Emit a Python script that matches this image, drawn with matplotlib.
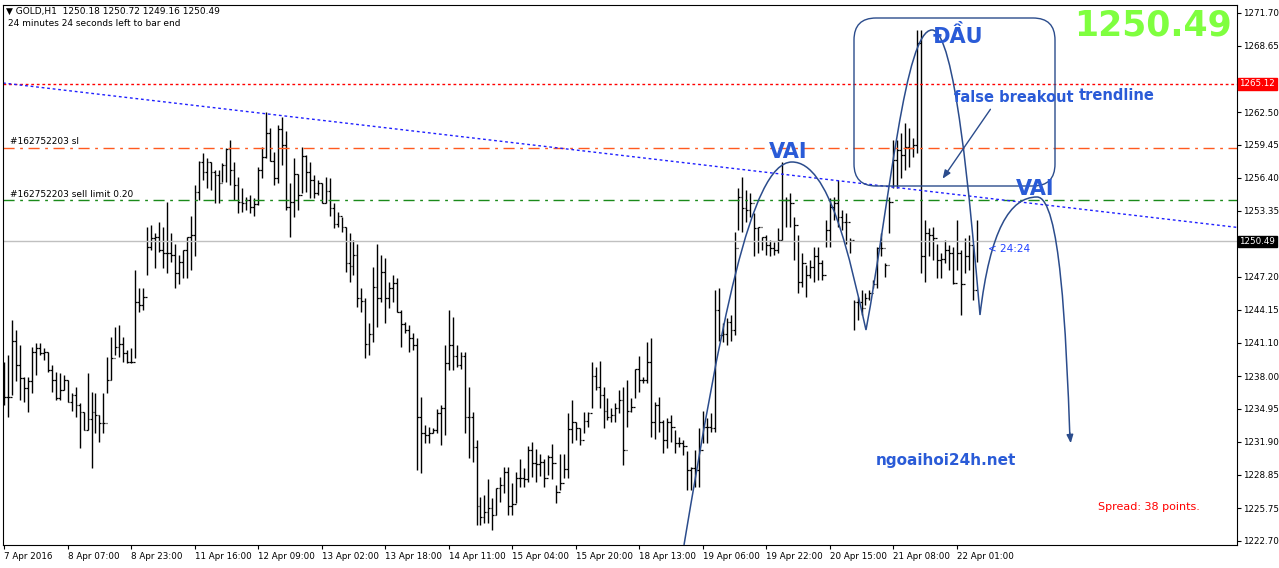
import matplotlib
matplotlib.use("Agg")
import matplotlib.pyplot as plt
from matplotlib.path import Path
from matplotlib.patches import PathPatch, FancyBboxPatch, FancyArrowPatch

high = [1239.3,1240.0,1243.2,1242.3,1240.9,1237.9,1237.9,1240.7,1241.1,1241.1,1240.6,1240.2,1239.0,1238.4,1238.3,1238.1,1237.6,1236.4,1237.0,1235.5,
1234.7,1238.3,1236.5,1236.4,1234.4,1236.4,1239.8,1241.6,1242.6,1242.7,1241.6,1240.4,1240.6,1247.8,1246.2,1246.2,1251.8,1252.0,1251.3,1252.3,
1251.8,1254.2,1251.3,1250.3,1249.2,1249.7,1250.9,1252.9,1255.7,1258.0,1258.7,1258.2,1257.9,1257.1,1257.1,1257.8,1259.2,1259.9,1257.9,1256.5,
1255.5,1254.6,1254.8,1254.5,1257.4,1259.3,1262.5,1261.0,1258.8,1261.3,1262.0,1260.7,1255.9,1258.2,1256.8,1259.3,1258.5,1257.9,1256.7,1256.2,
1255.9,1256.5,1256.4,1254.1,1253.2,1252.8,1251.8,1251.3,1250.6,1250.3,1246.2,1245.2,1242.9,1248.1,1250.3,1249.2,1249.0,1246.7,1247.4,1247.1,
1244.1,1243.0,1242.7,1242.0,1241.5,1236.1,1233.5,1233.3,1233.2,1234.9,1235.3,1240.9,1244.1,1243.5,1240.9,1240.2,1240.2,1237.0,1234.7,1232.1,
1226.8,1227.0,1228.4,1226.7,1227.6,1228.6,1229.6,1229.6,1228.1,1229.1,1230.3,1229.5,1231.5,1231.9,1231.2,1230.8,1230.3,1230.7,1231.7,1227.9,
1230.8,1230.8,1234.6,1235.8,1233.7,1233.2,1234.7,1234.7,1239.3,1238.8,1239.4,1237.0,1236.0,1235.0,1235.5,1236.7,1237.0,1237.6,1236.0,1238.7,
1239.9,1237.9,1241.2,1241.5,1235.6,1236.1,1233.9,1234.1,1234.4,1233.0,1232.3,1232.1,1231.0,1229.6,1231.1,1233.2,1234.8,1234.1,1234.6,1246.0,
1246.2,1242.9,1243.4,1243.7,1251.4,1255.5,1256.5,1255.3,1255.0,1253.1,1251.8,1250.9,1251.1,1250.6,1250.4,1251.7,1257.9,1254.6,1255.0,1252.8,
1251.1,1249.4,1248.3,1248.8,1250.0,1250.0,1248.8,1252.5,1254.5,1254.6,1256.2,1253.4,1253.1,1250.8,1245.1,1245.3,1246.0,1245.7,1246.0,1246.9,
1250.0,1251.3,1248.5,1254.6,1259.9,1259.9,1260.6,1261.5,1261.0,1260.1,1270.1,1270.1,1252.5,1251.7,1251.8,1250.3,1249.4,1250.6,1250.2,1250.0,
1252.5,1249.7,1250.8,1251.1,1250.2,1252.5]
low = [1235.3,1234.2,1236.2,1237.5,1235.8,1235.6,1234.7,1236.4,1238.1,1240.0,1239.5,1238.4,1236.5,1235.8,1235.8,1236.7,1235.6,1234.8,1234.2,1231.3,
1233.0,1233.0,1229.5,1232.7,1231.9,1232.7,1236.4,1237.6,1240.0,1239.8,1239.3,1239.2,1239.2,1239.7,1243.9,1244.1,1247.4,1249.7,1248.0,1249.5,
1248.0,1247.6,1248.6,1246.2,1246.5,1247.1,1247.1,1247.8,1249.1,1254.3,1256.2,1255.5,1255.3,1254.1,1254.1,1256.0,1256.0,1255.7,1254.3,1253.1,
1253.2,1253.4,1253.1,1252.9,1253.9,1256.4,1258.2,1258.0,1255.7,1255.9,1257.6,1253.4,1250.9,1252.8,1253.4,1255.0,1255.1,1254.5,1254.5,1254.8,
1254.1,1254.1,1252.9,1251.7,1251.8,1251.4,1247.7,1246.7,1247.4,1244.4,1243.9,1239.7,1240.0,1241.2,1242.6,1244.9,1242.9,1244.3,1244.9,1243.9,
1240.7,1242.0,1240.2,1240.4,1229.3,1229.0,1231.8,1231.8,1232.7,1232.7,1231.6,1232.5,1238.6,1238.6,1238.8,1238.7,1232.7,1230.4,1230.0,1224.2,
1224.2,1224.4,1224.4,1223.7,1225.1,1226.3,1227.1,1225.1,1225.1,1226.2,1227.7,1227.7,1228.2,1228.6,1228.2,1228.7,1227.7,1228.8,1228.4,1226.2,
1227.4,1228.5,1228.5,1231.8,1232.1,1231.6,1232.7,1233.3,1235.0,1236.7,1235.0,1233.2,1233.9,1233.7,1233.7,1234.6,1229.7,1233.3,1234.7,1236.0,
1236.5,1237.4,1237.4,1232.3,1232.2,1232.8,1230.9,1231.3,1231.9,1230.9,1231.4,1230.7,1227.4,1227.4,1227.7,1227.7,1231.8,1231.8,1232.8,1232.8,
1241.3,1241.2,1240.9,1241.3,1241.8,1251.6,1251.4,1252.3,1252.8,1249.1,1249.4,1249.7,1249.2,1249.1,1249.2,1249.4,1250.6,1251.8,1251.8,1248.8,
1245.7,1246.3,1245.3,1247.1,1246.7,1246.9,1246.9,1250.0,1250.0,1252.5,1251.8,1251.6,1250.3,1249.4,1242.3,1243.2,1243.7,1244.6,1245.1,1246.2,
1246.2,1249.1,1247.2,1251.3,1255.5,1255.5,1256.4,1257.1,1257.4,1258.3,1258.7,1247.6,1246.7,1249.1,1248.8,1247.1,1247.1,1248.5,1247.8,1246.5,
1247.8,1243.7,1247.6,1247.8,1245.1,1248.6]
close = [1236.1,1236.1,1241.3,1239.0,1237.8,1236.9,1237.5,1240.2,1240.6,1240.1,1240.2,1238.6,1237.6,1236.0,1236.7,1237.6,1235.6,1236.2,1235.3,1234.7,
1233.0,1234.0,1234.7,1234.4,1233.6,1233.6,1237.6,1239.7,1240.7,1241.0,1240.1,1239.3,1239.3,1244.9,1244.6,1245.3,1250.0,1250.8,1250.9,1249.7,
1249.4,1249.4,1249.2,1247.6,1248.6,1249.7,1250.9,1251.1,1255.1,1257.9,1256.9,1257.9,1256.9,1256.7,1255.9,1257.6,1259.1,1257.1,1255.7,1254.2,
1254.1,1254.3,1253.7,1254.0,1257.1,1258.3,1260.6,1258.0,1256.4,1260.9,1259.4,1253.7,1254.2,1256.8,1254.8,1258.4,1256.9,1256.2,1255.0,1255.9,
1254.1,1255.2,1253.6,1252.1,1252.9,1251.8,1248.5,1248.2,1249.2,1245.2,1245.0,1241.0,1241.9,1246.3,1245.2,1247.7,1245.2,1246.2,1246.6,1243.9,
1242.8,1242.3,1241.5,1240.9,1234.2,1232.7,1232.5,1232.7,1233.0,1234.6,1235.0,1239.2,1240.9,1239.9,1239.0,1239.9,1234.2,1234.2,1231.4,1225.9,
1224.9,1225.4,1225.8,1225.1,1227.6,1227.9,1229.1,1225.9,1226.1,1228.5,1228.5,1228.4,1231.1,1229.9,1229.8,1230.0,1228.5,1230.5,1229.9,1227.2,
1228.1,1229.4,1233.1,1233.7,1233.2,1232.1,1233.8,1234.6,1238.0,1237.0,1236.2,1234.8,1234.2,1234.4,1235.0,1235.8,1231.1,1234.8,1235.1,1238.7,
1237.6,1237.6,1239.3,1233.7,1235.3,1233.7,1232.1,1233.7,1233.3,1231.8,1231.8,1231.5,1229.3,1229.5,1229.3,1231.1,1233.3,1233.3,1233.2,1244.1,
1241.8,1241.9,1243.0,1242.3,1249.9,1254.6,1253.6,1253.4,1254.1,1251.7,1251.8,1250.9,1250.2,1249.9,1249.7,1250.6,1254.3,1254.3,1254.1,1252.0,
1246.7,1248.5,1247.4,1248.1,1249.1,1248.5,1247.4,1251.6,1253.7,1254.1,1252.8,1252.3,1252.3,1250.6,1244.9,1244.9,1244.3,1245.2,1245.7,1246.5,
1249.9,1249.9,1248.3,1254.2,1258.1,1259.0,1258.5,1259.3,1259.2,1259.4,1268.9,1249.1,1251.3,1251.1,1250.8,1248.8,1248.9,1249.7,1249.4,1246.6,
1249.4,1246.5,1249.1,1250.2,1246.0,1250.49]

date_labels = ["7 Apr 2016","8 Apr 07:00","8 Apr 23:00","11 Apr 16:00","12 Apr 09:00","13 Apr 02:00",
               "13 Apr 18:00","14 Apr 11:00","15 Apr 04:00","15 Apr 20:00","18 Apr 13:00","19 Apr 06:00",
               "19 Apr 22:00","20 Apr 15:00","21 Apr 08:00","22 Apr 01:00"]
price_ticks = [1271.70,1268.65,1262.50,1259.45,1256.40,1253.35,1247.20,1244.15,1241.10,
               1238.00,1234.95,1231.90,1228.85,1225.75,1222.70]
sl_level = 1259.2
limit_level = 1254.3
red_level = 1265.12
last_price = 1250.49
trend_start = 1265.2
trend_end = 1251.8

W, H = 1279, 568
YMIN, YMAX = 1222.32, 1272.44
fig = plt.figure(figsize=(W/100, H/100), dpi=100)
ax = fig.add_axes([3/W, 23/H, 1234/W, 540/H])
n = len(close)
xs = list(range(n))
opens = [close[0]] + close[:-1]
ax.vlines(xs, low, high, color='black', lw=1.0)
ax.hlines(opens, [x-0.45 for x in xs], xs, color='black', lw=0.9)
ax.hlines(close, xs, [x+0.45 for x in xs], color='black', lw=0.9)
xmax = 310.6
ax.set_xlim(-0.3, xmax)
ax.set_ylim(YMIN, YMAX)

ax.axhline(red_level, color='red', ls=(0, (2, 2)), lw=1)
ax.axhline(sl_level, color='#ff5a1f', ls=(0, (8, 4, 2, 4)), lw=1)
ax.axhline(limit_level, color='#1a8a1a', ls=(0, (8, 4, 2, 4)), lw=1)
ax.axhline(last_price, color='#c0c0c0', lw=1)
ax.plot([-0.3, xmax], [trend_start, trend_end], color='#1f1fff', ls=(0, (2, 2)), lw=1)
ax.text(1.5, sl_level+0.3, "#162752203 sl", fontsize=6.5)
ax.text(1.5, limit_level+0.3, "#162752203 sell limit 0.20", fontsize=6.5)

ax.yaxis.tick_right()
ax.set_yticks(price_ticks)
ax.set_yticklabels([f"{p:.2f}" for p in price_ticks], fontsize=6.3)
ax.tick_params(axis='y', length=3, pad=1.5)
ax.set_xticks([16*i for i in range(len(date_labels))])
ax.set_xticklabels(date_labels, fontsize=6.3, ha='left')
ax.tick_params(axis='x', length=3, pad=2)

ax.text(1.002, (red_level-YMIN)/(YMAX-YMIN), "1265.12", transform=ax.transAxes, fontsize=6.3,
        color='white', va='center', ha='left', bbox=dict(boxstyle='square,pad=0.15', fc='red', ec='red'))
ax.text(1.002, (last_price-YMIN)/(YMAX-YMIN), "1250.49", transform=ax.transAxes, fontsize=6.3,
        color='white', va='center', ha='left', bbox=dict(boxstyle='square,pad=0.15', fc='black', ec='black'))

def P(x, y):
    return (x/W, 1-y/H)

ft = fig.transFigure
fig.text(*P(6, 11), "▼ GOLD,H1  1250.18 1250.72 1249.16 1250.49", fontsize=6.5, va='center')
fig.text(*P(8, 23), "24 minutes 24 seconds left to bar end", fontsize=6.5, va='center')
fig.text(*P(1232, 25), "1250.49", fontsize=25, fontweight='bold', color='#7fff3f', ha='right', va='center')
fig.text(*P(1098, 507), "Spread: 38 points.", fontsize=8, color='red', va='center')
fig.text(*P(988, 249), "< 24:24", fontsize=7.5, color='#2040ff', va='center')

blue = '#2a5bd7'
navy = '#2b4c8c'
for (x, y, s, fs) in [(788, 152, "VAI", 15), (958, 36, "ĐẦU", 15), (1035, 189, "VAI", 15),
                      (1014, 97, "false breakout", 10.5), (1117, 96, "trendline", 10.5),
                      (946, 461, "ngoaihoi24h.net", 11)]:
    fig.text(*P(x, y), s, fontsize=fs, fontweight='bold', color=blue, ha='center', va='center')

verts = [(684,545),(720,330),(750,162),(792,162),(830,162),(850,260),(866,330),
         (890,200),(905,30),(932,30),(955,30),(970,200),(980,315),
         (990,230),(1010,197),(1037,197),(1060,197),(1066,330),(1070,440)]
codes = [Path.MOVETO] + [Path.CURVE4]*18
path = Path([P(x, y) for x, y in verts], codes)
fig.patches.append(PathPatch(path, transform=ft, fill=False, ec=navy, lw=1.1))
fig.patches.append(FancyArrowPatch(P(1069.5, 430), P(1071, 446), transform=ft, arrowstyle='-|>,head_width=2,head_length=5', color=navy, lw=1))
fig.patches.append(FancyArrowPatch(P(992, 107), P(941, 181), transform=ft, arrowstyle='-|>,head_width=2,head_length=5', color=navy, lw=1))
fig.patches.append(FancyBboxPatch((854, H-186), 201, 168, boxstyle='round,pad=0,rounding_size=22',
                                  transform=None, fill=False, ec=navy, lw=1))

fig.savefig("out.png", dpi=100)
